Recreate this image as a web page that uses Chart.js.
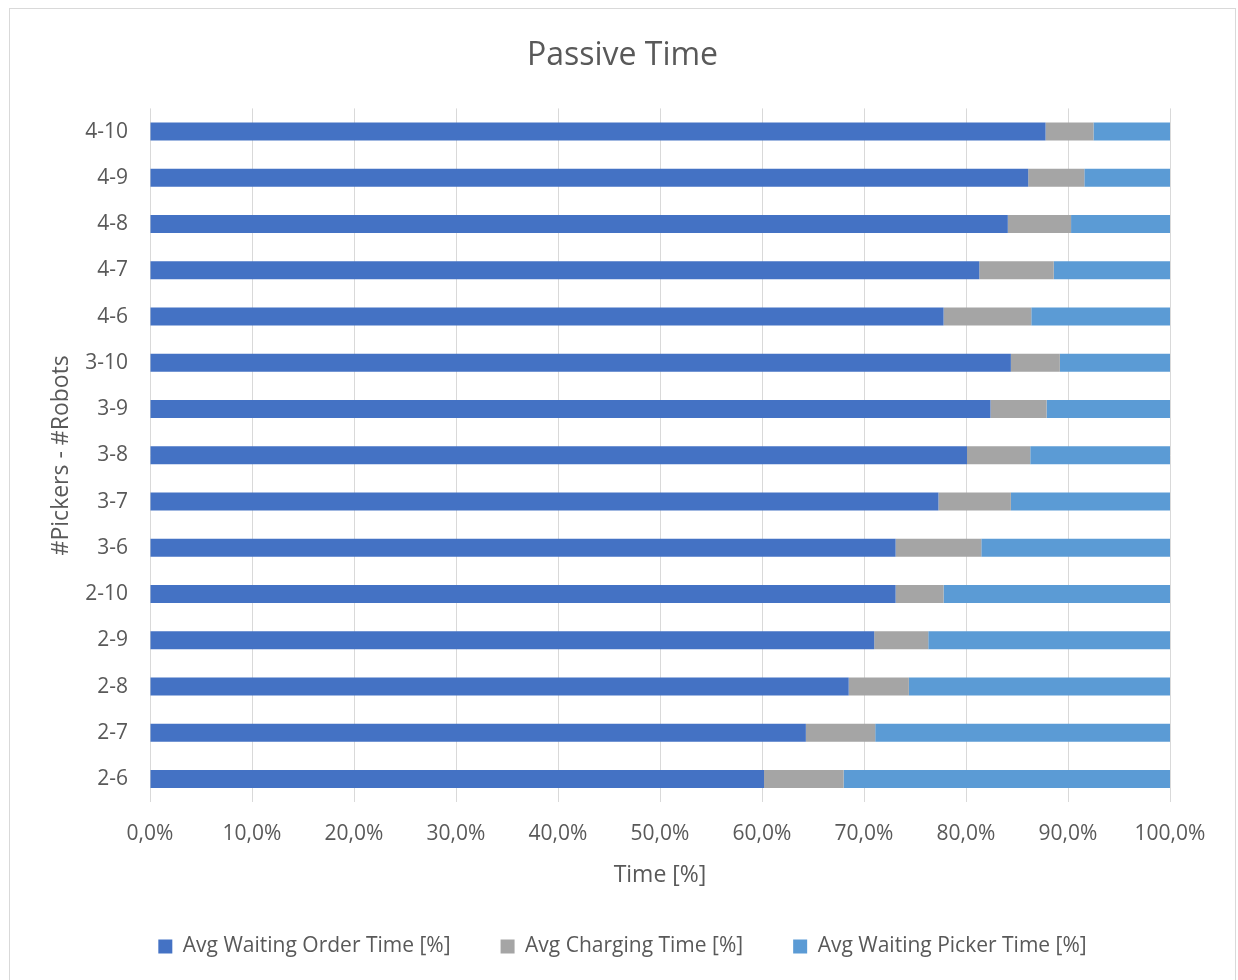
<!DOCTYPE html>
<html>
<head>
<meta charset="utf-8">
<title>Passive Time</title>
<script src="https://cdn.jsdelivr.net/npm/chart.js@4/dist/chart.umd.min.js"></script>
<style>
  body { margin: 0; background: #fff; }
  #frame {
    position: absolute;
    left: 9px;
    top: 8px;
    width: 1227px;
    height: 973px;
    border: 1px solid #d9d9d9;
    border-bottom: none;
    box-sizing: border-box;
  }
</style>
</head>
<body>
<div id="frame"><canvas id="chart-passive"></canvas></div>
<script>
// #Pickers - #Robots configurations, top row first
var configs = ["4-10", "4-9", "4-8", "4-7", "4-6", "3-10", "3-9", "3-8", "3-7", "3-6", "2-10", "2-9", "2-8", "2-7", "2-6"];
var waitingOrder = [87.8, 86.1, 84.1, 81.3, 77.8, 84.4, 82.4, 80.1, 77.3, 73.1, 73.1, 71.0, 68.5, 64.3, 60.2];
var charging = [4.7, 5.5, 6.2, 7.3, 8.6, 4.8, 5.5, 6.2, 7.1, 8.4, 4.7, 5.3, 5.9, 6.8, 7.8];
var waitingPicker = [7.5, 8.4, 9.7, 11.4, 13.6, 10.8, 12.1, 13.7, 15.6, 18.5, 22.2, 23.7, 25.6, 28.9, 32.0];

var textColor = "#595959";
var fontFamily = "'Open Sans', sans-serif";

function pct(v) {
  return Number(v).toFixed(1).replace(".", ",") + "%";
}

var ctx = document.getElementById("chart-passive");
var passiveChart = new Chart(ctx, {
  type: "bar",
  data: {
    labels: configs,
    datasets: [
      { label: "Avg Waiting Order Time [%]", data: waitingOrder, backgroundColor: "#4472c4" },
      { label: "Avg Charging Time [%]", data: charging, backgroundColor: "#a5a5a5" },
      { label: "Avg Waiting Picker Time [%]", data: waitingPicker, backgroundColor: "#5b9bd5" },
    ],
  },
  options: {
    indexAxis: "y",
    responsive: true,
    maintainAspectRatio: false,
    animation: false,
    datasets: {
      bar: { barPercentage: 0.39, categoryPercentage: 1, borderWidth: 0 },
    },
    layout: { padding: { left: 0, right: 0, top: 0, bottom: 14 } },
    plugins: {
      title: {
        display: true,
        text: "Passive Time",
        color: textColor,
        font: { family: fontFamily, size: 32, weight: "normal" },
        padding: { top: 28, bottom: 33 },
      },
      legend: {
        position: "bottom",
        labels: {
          color: textColor,
          font: { family: fontFamily, size: 21 },
          boxWidth: 14,
          boxHeight: 14,
          padding: 50,
        },
      },
      tooltip: {
        callbacks: {
          label: function (item) {
            return item.dataset.label + ": " + pct(item.raw);
          },
        },
      },
    },
    scales: {
      x: {
        stacked: true,
        min: 0,
        max: 100,
        ticks: {
          stepSize: 10,
          color: textColor,
          font: { family: fontFamily, size: 21 },
          padding: 19,
          callback: function (v) { return pct(v); },
        },
        grid: { color: "#d9d9d9", drawTicks: false },
        border: { display: false },
        title: {
          display: true,
          text: "Time [%]",
          color: textColor,
          font: { family: fontFamily, size: 23 },
          padding: { top: -4, bottom: -3 },
        },
      },
      y: {
        stacked: true,
        afterFit: function (axis) {
          axis.width = 140;
        },
        ticks: {
          color: textColor,
          font: { family: fontFamily, size: 21 },
          padding: 22,
        },
        grid: { display: false, drawTicks: false, tickLength: 0 },
        border: { display: false },
        title: {
          display: true,
          text: "#Pickers - #Robots",
          color: textColor,
          font: { family: fontFamily, size: 23 },
          padding: { top: 38, bottom: 0 },
        },
      },
      // empty margin on the right so the title and legend stay centred on the whole chart
      yRight: {
        type: "linear",
        position: "right",
        afterFit: function (axis) {
          axis.width = 65;
        },
        ticks: { display: false },
        grid: { display: false, drawTicks: false },
        border: { display: false },
      },
    },
  },
});
</script>
</body>
</html>
